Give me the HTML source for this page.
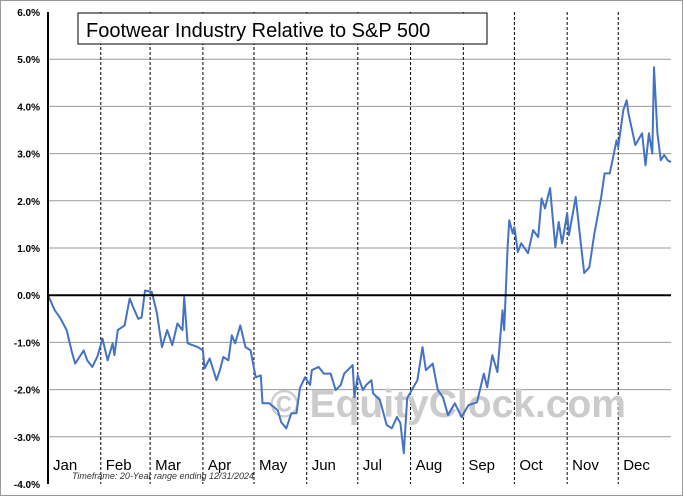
<!DOCTYPE html>
<html><head><meta charset="utf-8"><style>
body{margin:0;background:#fff;}
svg{display:block;font-family:"Liberation Sans",Verdana,sans-serif;}
</style></head><body>
<svg id="chart" width="683" height="496" xmlns="http://www.w3.org/2000/svg">
<rect x="0.5" y="0.5" width="682" height="495" fill="#fff" stroke="#999"/>
<g id="grid"></g>
<text x="448" y="417" font-size="39" font-weight="bold" fill="#cbcbcb" text-anchor="middle">© EquityClock.com</text>
<g id="series"></g>
<g id="axes"></g>
<rect x="78" y="13" width="409" height="31" fill="#fff" stroke="#000"/>
<text x="86" y="37" font-size="20" fill="#000">Footwear Industry Relative to S&amp;P 500</text>
<text x="72" y="479" font-size="9" font-style="italic" fill="#333">Timeframe: 20-Year range ending 12/31/2024</text>
</svg>
<script>
const yTicks=[6,5,4,3,2,1,0,-1,-2,-3,-4];
const yTickLabels=["6.0%","5.0%","4.0%","3.0%","2.0%","1.0%","0.0%","-1.0%","-2.0%","-3.0%","-4.0%"];
const months=["Jan","Feb","Mar","Apr","May","Jun","Jul","Aug","Sep","Oct","Nov","Dec"];
const monthStarts=[0,31,60,91,121,152,182,213,244,274,305,335,366];
const days=[0,4,7,11,14,16,21,23,26,29,32,35,38,39,41,45,48,50,53,55,57,61,64,67,70,73,76,79,80,82,88,91,92,95,99,101,103,106,108,110,113,116,119,122,125,126,130,135,137,140,143,146,148,151,154,155,159,162,166,169,172,174,179,180,182,185,187,190,191,195,199,202,205,207,209,211,217,220,222,226,229,232,235,239,243,247,252,256,258,261,264,267,268,270,271,273,274,276,278,282,285,288,290,292,295,298,300,302,305,306,310,313,315,318,321,325,327,330,332,334,335,338,340,341,345,349,351,353,355,356,358,360,362,364,366];
const values=[0,-0.32,-0.47,-0.74,-1.2,-1.45,-1.17,-1.38,-1.52,-1.3,-0.92,-1.38,-1.02,-1.27,-0.74,-0.64,-0.07,-0.25,-0.5,-0.47,0.1,0.07,-0.38,-1.1,-0.74,-1.06,-0.6,-0.74,-0.04,-1.02,-1.1,-1.17,-1.55,-1.34,-1.8,-1.59,-1.31,-1.38,-0.85,-1.02,-0.64,-1.1,-1.17,-1.74,-1.7,-2.29,-2.29,-2.44,-2.69,-2.82,-2.5,-2.5,-1.97,-1.74,-1.9,-1.59,-1.52,-1.66,-1.66,-2.01,-1.9,-1.66,-1.48,-2.16,-1.7,-2.01,-1.9,-1.8,-2.08,-2.22,-2.75,-2.82,-2.58,-2.71,-3.35,-2.18,-1.8,-1.1,-1.59,-1.45,-2.01,-2.16,-2.54,-2.29,-2.58,-2.33,-2.27,-1.66,-1.95,-1.27,-1.63,-0.32,-0.74,1.02,1.59,1.31,1.44,0.91,1.1,0.89,1.38,1.23,2.05,1.84,2.27,1.02,1.55,1.1,1.74,1.27,2.08,1.1,0.47,0.59,1.31,2.08,2.58,2.58,2.92,3.28,3.14,3.92,4.13,3.86,3.18,3.43,2.75,3.43,3.0,4.83,3.43,2.86,2.97,2.86,2.82];
const NS="http://www.w3.org/2000/svg";
const X0=48,X1=671,Y0=12,Y1=484;
const xs=d=>X0+d*(X1-X0)/366;
const ys=v=>Y0+(6-v)*(Y1-Y0)/10;
function mk(t,a,p){const e=document.createElementNS(NS,t);for(const k in a)e.setAttribute(k,a[k]);p.appendChild(e);return e;}
const grid=document.getElementById('grid'),axes=document.getElementById('axes'),series=document.getElementById('series');
yTicks.forEach((v,i)=>{
 if(v!==0&&v!==6&&v!==-4){const l=mk('line',{x1:X0,x2:X1,y1:ys(v),y2:ys(v),stroke:'#999','stroke-width':1},grid);
 
 }
 const t=mk('text',{x:40,y:ys(v)+4,'font-size':10,'font-weight':'bold','text-anchor':'end',fill:'#000'},axes);
 t.textContent=yTickLabels[i];
 
 
});
monthStarts.slice(1,12).forEach(d=>{
 const l=mk('line',{x1:xs(d),x2:xs(d),y1:Y0,y2:Y1,stroke:'#000','stroke-width':1,'stroke-dasharray':'3,2'},grid);
 
 
});
months.forEach((m,i)=>{
 const t=mk('text',{x:xs(monthStarts[i])+5,y:470,'font-size':15,fill:'#000'},axes);
 t.textContent=m;
 
 
});
let a=mk('line',{x1:X0,x2:X0,y1:Y0,y2:Y1,stroke:'#000','stroke-width':2},axes);


a=mk('line',{x1:X0,x2:X1,y1:ys(0),y2:ys(0),stroke:'#000','stroke-width':2},axes);


const p=mk('polyline',{points:days.map((d,i)=>xs(d).toFixed(1)+','+ys(values[i]).toFixed(1)).join(' '),fill:'none',stroke:'#4472c4','stroke-width':2,'stroke-linejoin':'round'},series);


</script>
</body></html>
